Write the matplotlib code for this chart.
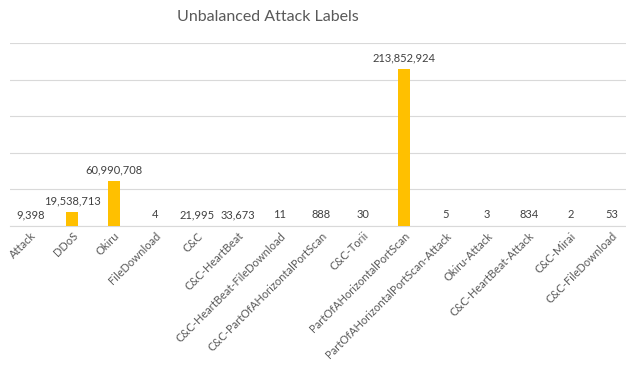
import matplotlib.pyplot as plt

categories = ["Attack", "DDoS", "Okiru", "FileDownload", "C&C", "C&C-HeartBeat",
              "C&C-HeartBeat-FileDownload", "C&C-PartOfAHorizontalPortScan", "C&C-Torii",
              "PartOfAHorizontalPortScan", "PartOfAHorizontalPortScan-Attack", "Okiru-Attack",
              "C&C-HeartBeat-Attack", "C&C-Mirai", "C&C-FileDownload"]
counts = [9398, 19538713, 60990708, 4, 21995, 33673, 11, 888, 30,
          213852924, 5, 3, 834, 2, 53]
y_ticks = [0, 50e6, 100e6, 150e6, 200e6, 250e6]

BAR_COLOR = "#FFC000"
TEXT_COLOR = "#595959"
GRID_COLOR = "#D9D9D9"

plt.rcParams['font.family'] = ['Lato', 'DejaVu Sans']

fig = plt.figure(figsize=(6.26, 3.66), dpi=100)
ax = fig.add_axes([10 / 626, 140 / 366, 622.5 / 626, 183 / 366])

x = range(len(categories))
ax.bar(x, counts, width=0.3, color=BAR_COLOR, zorder=3)

# value labels above every bar
for xi, v in zip(x, counts):
    ax.annotate(f"{v:,}", (xi, v), xytext=(0, 4), textcoords="offset points",
                ha="center", va="bottom", fontsize=8, color="#404040")

ax.set_xlim(-0.5, len(categories) - 0.5)
ax.set_ylim(0, 250e6)
ax.set_yticks(y_ticks)
ax.yaxis.grid(True, color=GRID_COLOR, linewidth=0.8, zorder=0)
ax.tick_params(axis="y", left=False, labelleft=False)
ax.tick_params(axis="x", length=0, pad=3)
ax.set_xticks(list(x))
ax.set_xticklabels(categories, rotation=45, ha="right", rotation_mode="anchor",
                   fontsize=8, color=TEXT_COLOR)
for side in ("top", "right", "left"):
    ax.spines[side].set_visible(False)
ax.spines["bottom"].set_color(GRID_COLOR)

fig.text(268 / 626, 1 - 17 / 366, "Unbalanced Attack Labels", ha="center", va="center",
         fontsize=11.5, color=TEXT_COLOR)

fig.savefig("out.png", dpi=100)
